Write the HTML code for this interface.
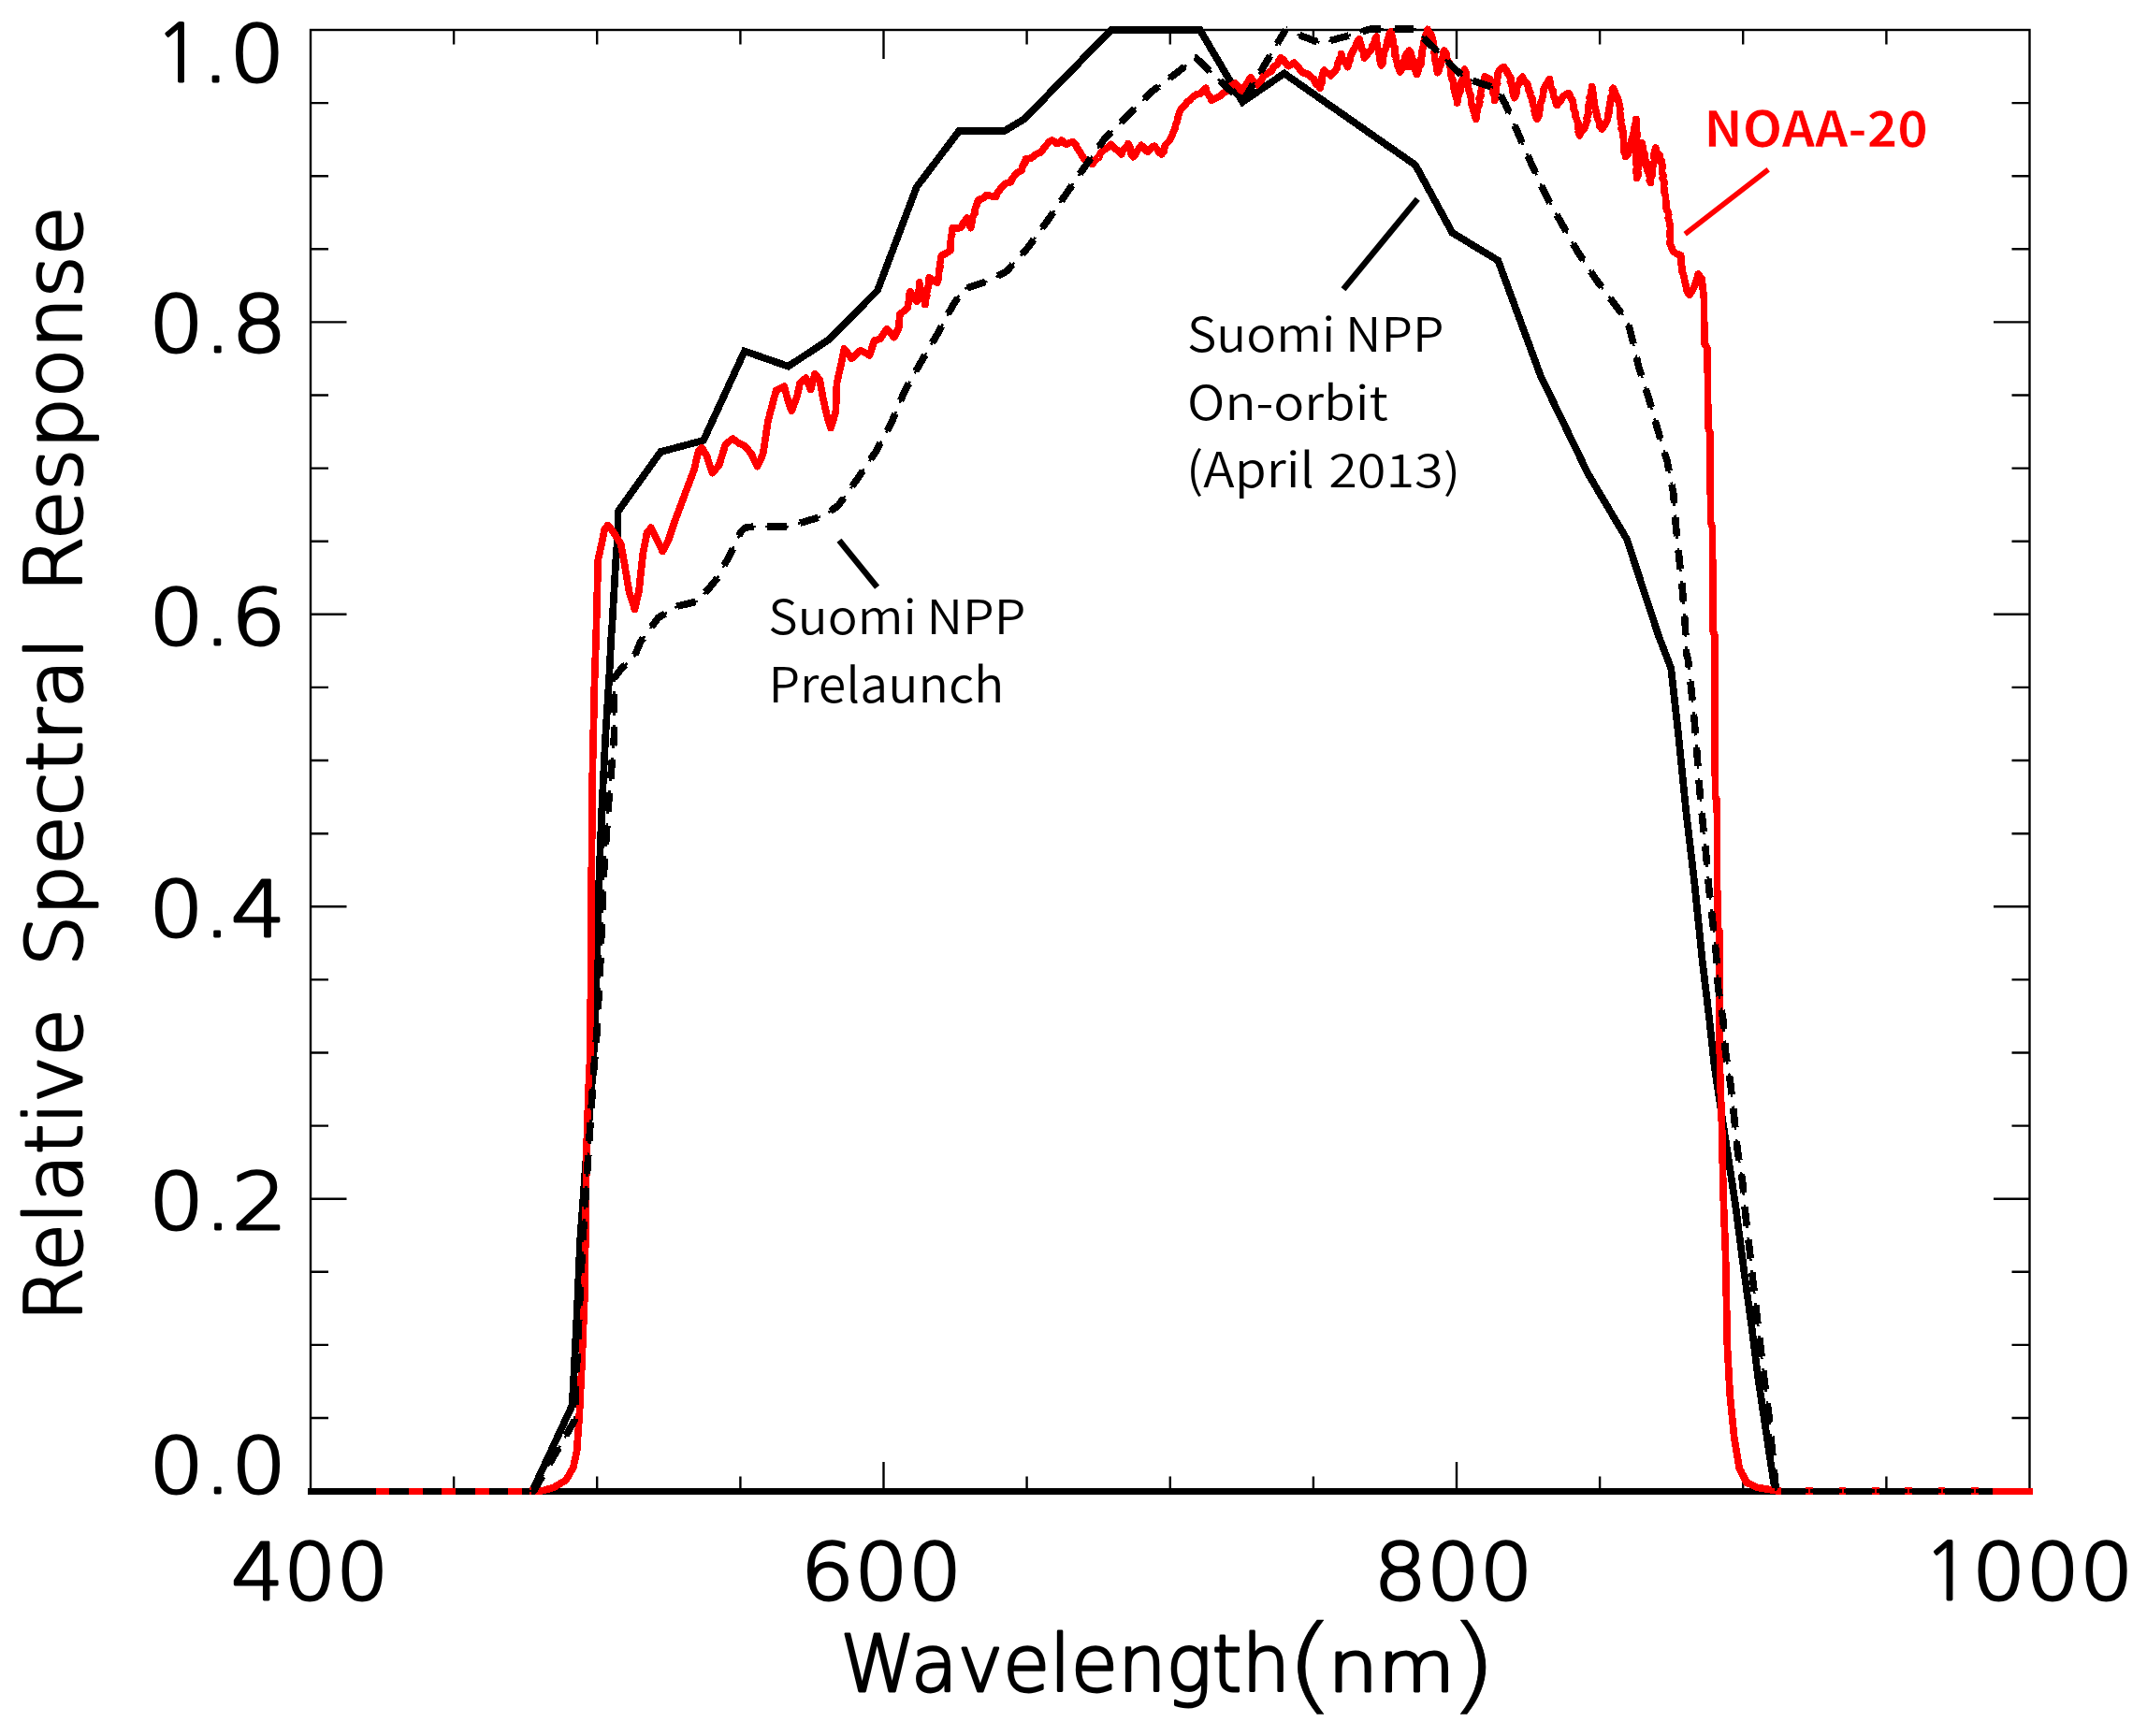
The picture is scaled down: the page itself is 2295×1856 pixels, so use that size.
<!DOCTYPE html>
<html lang="en"><head><meta charset="utf-8"><title>Relative Spectral Response</title>
<style>html,body{margin:0;padding:0;background:#fff}svg{display:block}</style></head><body>
<svg width="2295" height="1856" viewBox="0 0 2295 1856">
<rect width="2295" height="1856" fill="#fff"/>
<g stroke="#000" stroke-width="2.4" fill="none">
<rect x="332.0" y="32.0" width="1837.5" height="1562.1"/>
<path d="M485.1 32.0v15.5M485.1 1594.1v-15.5M638.2 32.0v15.5M638.2 1594.1v-15.5M791.4 32.0v15.5M791.4 1594.1v-15.5M944.5 32.0v31.0M944.5 1594.1v-31.0M1097.6 32.0v15.5M1097.6 1594.1v-15.5M1250.8 32.0v15.5M1250.8 1594.1v-15.5M1403.9 32.0v15.5M1403.9 1594.1v-15.5M1557.0 32.0v31.0M1557.0 1594.1v-31.0M1710.1 32.0v15.5M1710.1 1594.1v-15.5M1863.2 32.0v15.5M1863.2 1594.1v-15.5M2016.4 32.0v15.5M2016.4 1594.1v-15.5M332.0 1516.0h19.0M2169.5 1516.0h-19.0M332.0 1437.9h19.0M2169.5 1437.9h-19.0M332.0 1359.8h19.0M2169.5 1359.8h-19.0M332.0 1281.7h38.5M2169.5 1281.7h-38.5M332.0 1203.6h19.0M2169.5 1203.6h-19.0M332.0 1125.5h19.0M2169.5 1125.5h-19.0M332.0 1047.4h19.0M2169.5 1047.4h-19.0M332.0 969.3h38.5M2169.5 969.3h-38.5M332.0 891.2h19.0M2169.5 891.2h-19.0M332.0 813.0h19.0M2169.5 813.0h-19.0M332.0 734.9h19.0M2169.5 734.9h-19.0M332.0 656.8h38.5M2169.5 656.8h-38.5M332.0 578.7h19.0M2169.5 578.7h-19.0M332.0 500.6h19.0M2169.5 500.6h-19.0M332.0 422.5h19.0M2169.5 422.5h-19.0M332.0 344.4h38.5M2169.5 344.4h-38.5M332.0 266.3h19.0M2169.5 266.3h-19.0M332.0 188.2h19.0M2169.5 188.2h-19.0M332.0 110.1h19.0M2169.5 110.1h-19.0"/>
</g>
<g fill="none" stroke-linejoin="round" stroke-linecap="butt" shape-rendering="crispEdges">
<path d="M328.5 1594.1H2170.7" stroke="#000" stroke-width="7.2"/>
<path d="M566.0 1594.1 L569.0 1594.1 L611.4 1503.0 L612.7 1484.5 L616.7 1405.0 L620.2 1325.5 L627.0 1232.0 L634.1 1140.0 L635.4 1104.0 L638.0 1024.5 L640.2 945.0 L643.3 865.5 L647.3 786.0 L651.3 722.4 L653.4 680.0 L654.1 672.5 L656.7 627.0 L658.4 597.4 L660.2 574.7 L660.6 546.8 L706.3 483.0 L751.9 470.9 L795.9 375.4 L842.6 391.7 L885.3 363.5 L938.0 310.5 L979.8 200.0 L1025.2 140.0 L1073.8 140.0 L1095.2 127.0 L1187.6 32.0 L1282.7 32.0 L1328.2 109.1 L1372.7 78.5 L1513.0 176.5 L1552.4 248.8 L1601.3 278.5 L1646.7 401.5 L1697.5 506.5 L1739.0 576.5 L1773.0 680.0 L1786.2 714.4 L1794.2 786.0 L1802.1 865.5 L1811.4 945.0 L1819.4 1024.5 L1827.3 1090.7 L1832.6 1140.0 L1855.1 1288.4 L1864.4 1360.0 L1872.4 1418.2 L1879.0 1471.2 L1886.9 1524.2 L1893.6 1569.3 L1897.5 1594.1 L1900.0 1594.1" stroke="#000" stroke-width="7.7" stroke-linejoin="miter"/>
<path d="M566.0 1594.1 L569.1 1594.1 L572.1 1594.1 L575.2 1594.1 L578.3 1594.1 L581.6 1593.2 L584.9 1592.3 L588.2 1591.4 L591.5 1590.5 L594.2 1588.9 L596.8 1587.3 L599.5 1585.7 L602.1 1584.1 L604.8 1582.5 L606.4 1579.9 L608.0 1577.2 L609.5 1574.6 L611.1 1571.9 L612.7 1569.3 L613.4 1566.2 L614.0 1563.1 L614.7 1560.0 L615.4 1556.9 L616.0 1553.8 L616.7 1550.7 L616.9 1547.6 L617.1 1544.6 L617.3 1541.5 L617.5 1538.5 L617.7 1535.4 L617.9 1532.4 L618.2 1529.3 L618.4 1526.3 L618.6 1523.2 L618.8 1520.2 L619.0 1517.1 L619.2 1514.1 L619.4 1511.0 L619.6 1507.9 L619.7 1504.8 L619.9 1501.6 L620.0 1498.5 L620.2 1495.4 L620.3 1492.3 L620.5 1489.2 L620.6 1486.1 L620.8 1482.9 L620.9 1479.8 L621.1 1476.7 L621.2 1473.6 L621.4 1470.5 L621.5 1467.4 L621.7 1464.2 L621.8 1461.1 L622.0 1458.0 L622.1 1454.9 L622.2 1451.9 L622.4 1448.8 L622.5 1445.8 L622.6 1442.7 L622.7 1439.7 L622.9 1436.6 L623.0 1433.5 L623.1 1430.5 L623.2 1427.4 L623.4 1424.4 L623.5 1421.3 L623.6 1418.2 L623.7 1415.2 L623.8 1412.1 L624.0 1409.1 L624.1 1406.0 L624.2 1403.0 L624.3 1399.9 L624.5 1396.8 L624.6 1393.8 L624.7 1390.7 L624.8 1387.7 L625.0 1384.6 L625.1 1381.6 L625.2 1378.5 L625.2 1375.4 L625.3 1372.4 L625.3 1369.3 L625.3 1366.3 L625.4 1363.2 L625.4 1360.2 L625.4 1357.1 L625.4 1354.0 L625.5 1351.0 L625.5 1347.9 L625.5 1344.9 L625.6 1341.8 L625.6 1338.8 L625.6 1335.7 L625.7 1332.6 L625.7 1329.6 L625.7 1326.5 L625.8 1323.5 L625.8 1320.4 L625.8 1317.3 L625.8 1314.3 L625.9 1311.2 L625.9 1308.2 L625.9 1305.1 L626.0 1302.1 L626.0 1299.0 L626.0 1295.9 L626.1 1292.9 L626.1 1289.8 L626.2 1286.8 L626.2 1283.7 L626.3 1280.7 L626.4 1277.6 L626.4 1274.5 L626.4 1271.5 L626.5 1268.4 L626.5 1265.4 L626.6 1262.3 L626.6 1259.2 L626.7 1256.2 L626.8 1253.1 L626.8 1250.1 L626.9 1247.0 L626.9 1244.0 L626.9 1240.9 L627.0 1237.8 L627.0 1234.8 L627.1 1231.7 L627.1 1228.7 L627.2 1225.6 L627.2 1222.6 L627.3 1219.5 L627.4 1216.4 L627.5 1213.4 L627.6 1210.3 L627.7 1207.3 L627.8 1204.2 L627.9 1201.2 L628.0 1198.1 L628.1 1195.0 L628.2 1192.0 L628.3 1188.9 L628.4 1185.9 L628.5 1182.8 L628.6 1179.8 L628.8 1176.7 L628.9 1173.6 L629.0 1170.6 L629.1 1167.5 L629.2 1164.5 L629.3 1161.4 L629.4 1158.3 L629.5 1155.3 L629.6 1152.2 L629.7 1149.2 L629.8 1146.1 L629.9 1143.1 L630.0 1140.0 L630.6 1140.0 L630.6 1137.0 L630.7 1133.9 L630.7 1130.9 L630.7 1127.9 L630.8 1124.8 L630.8 1121.8 L630.8 1118.8 L630.9 1115.7 L630.9 1112.7 L630.9 1109.7 L631.0 1106.6 L631.0 1103.6 L631.0 1100.6 L631.0 1097.6 L631.1 1094.5 L631.1 1091.5 L631.1 1088.5 L631.2 1085.4 L631.2 1082.4 L631.2 1079.4 L631.3 1076.3 L631.3 1073.3 L631.3 1070.3 L631.4 1067.2 L631.4 1064.2 L631.4 1061.1 L631.4 1058.1 L631.5 1055.0 L631.5 1052.0 L631.5 1048.9 L631.5 1045.9 L631.5 1042.8 L631.6 1039.7 L631.6 1036.7 L631.6 1033.6 L631.6 1030.6 L631.6 1027.5 L631.7 1024.5 L631.7 1021.4 L631.7 1018.4 L631.7 1015.3 L631.7 1012.2 L631.8 1009.2 L631.8 1006.1 L631.8 1003.1 L631.8 1000.0 L631.9 997.0 L631.9 993.9 L631.9 990.8 L631.9 987.8 L631.9 984.7 L632.0 981.7 L632.0 978.6 L632.0 975.6 L632.0 972.5 L632.0 969.5 L632.1 966.4 L632.1 963.3 L632.1 960.3 L632.1 957.2 L632.1 954.2 L632.2 951.1 L632.2 948.1 L632.2 945.0 L632.2 941.9 L632.3 938.9 L632.3 935.8 L632.3 932.7 L632.3 929.7 L632.4 926.6 L632.4 923.5 L632.4 920.5 L632.5 917.4 L632.5 914.3 L632.5 911.2 L632.5 908.2 L632.6 905.1 L632.6 902.0 L632.6 899.0 L632.7 895.9 L632.7 892.8 L632.7 889.8 L632.8 886.7 L632.8 883.6 L632.8 880.6 L632.8 877.5 L632.9 874.4 L632.9 871.4 L632.9 868.3 L633.0 865.2 L633.0 862.2 L633.0 859.1 L633.0 856.0 L633.1 852.9 L633.1 849.9 L633.1 846.8 L633.2 843.7 L633.2 840.7 L633.2 837.6 L633.2 834.5 L633.3 831.5 L633.3 828.4 L633.4 825.3 L633.4 822.2 L633.5 819.2 L633.6 816.1 L633.6 813.0 L633.7 809.9 L633.8 806.9 L633.8 803.8 L633.9 800.7 L634.0 797.6 L634.0 794.5 L634.1 791.5 L634.2 788.4 L634.2 785.3 L634.3 782.2 L634.4 779.2 L634.5 776.1 L634.5 773.0 L634.6 769.9 L634.7 766.9 L634.7 763.8 L634.8 760.7 L634.9 757.6 L634.9 754.5 L635.0 751.5 L635.1 748.4 L635.1 745.3 L635.2 742.2 L635.3 739.2 L635.3 736.1 L635.4 733.0 L635.5 730.0 L635.6 726.9 L635.7 723.9 L635.8 720.8 L635.9 717.8 L636.0 714.7 L636.1 711.7 L636.2 708.6 L636.3 705.6 L636.4 702.5 L636.5 699.5 L636.6 696.4 L636.7 693.4 L636.8 690.3 L636.9 687.3 L637.0 684.2 L637.1 681.2 L637.2 678.1 L637.3 675.1 L637.4 672.0 L637.5 669.0 L637.5 665.9 L637.6 662.9 L637.7 659.9 L637.8 656.8 L637.8 653.8 L637.9 650.8 L638.0 647.7 L638.1 644.7 L638.1 641.6 L638.2 638.6 L638.3 635.6 L638.4 632.5 L638.5 629.5 L638.5 626.5 L638.6 623.4 L638.7 620.4 L638.8 617.3 L638.8 614.3 L638.9 611.3 L639.0 608.2 L639.1 605.2 L639.1 602.2 L639.2 599.1 L639.9 596.0 L640.6 592.8 L641.3 589.7 L642.0 586.5 L642.7 583.4 L643.4 579.9 L644.1 576.4 L644.8 572.9 L645.5 569.4 L646.2 565.9 L649.7 561.6 L652.3 564.6 L654.9 567.7 L656.7 570.5 L658.4 573.3 L660.2 576.1 L661.9 578.9 L663.7 581.6 L664.2 584.9 L664.8 588.1 L665.4 591.3 L666.0 594.5 L666.6 597.7 L667.2 600.9 L667.7 604.0 L668.2 607.2 L668.7 610.3 L669.3 613.4 L669.8 616.6 L670.3 619.7 L670.8 622.9 L671.4 626.0 L671.9 629.2 L672.4 632.3 L673.4 635.5 L674.4 638.7 L675.5 641.9 L676.5 645.1 L677.5 648.3 L678.5 651.5 L679.2 648.3 L680.0 645.1 L680.7 641.9 L681.4 638.7 L682.2 635.5 L682.9 632.3 L683.2 629.2 L683.6 626.1 L683.9 623.0 L684.2 619.9 L684.6 616.9 L684.9 613.8 L685.2 610.7 L685.6 607.6 L685.9 604.5 L686.2 601.4 L686.6 598.3 L686.9 595.2 L687.2 592.1 L687.9 588.9 L688.5 585.6 L689.1 582.4 L689.7 579.2 L690.4 575.9 L691.0 572.7 L691.6 569.4 L693.8 566.8 L696.0 564.2 L697.5 567.2 L699.0 570.3 L700.6 573.4 L702.1 576.4 L703.6 579.7 L705.1 583.0 L706.7 586.2 L708.2 589.5 L709.7 586.7 L711.3 583.8 L712.8 581.0 L714.3 578.2 L715.3 575.2 L716.3 572.2 L717.3 569.2 L718.3 566.2 L719.3 563.2 L720.3 560.2 L721.3 557.2 L722.5 554.1 L723.6 551.0 L724.8 547.9 L726.0 544.8 L727.1 541.7 L728.3 538.6 L729.5 535.5 L730.6 532.4 L731.8 529.3 L732.9 526.1 L734.1 523.0 L735.3 519.9 L736.4 516.8 L737.6 513.7 L738.8 510.6 L739.9 507.5 L741.1 504.4 L742.3 501.3 L743.0 498.1 L743.7 494.9 L744.4 491.7 L745.2 488.5 L745.9 485.3 L746.6 482.1 L750.1 478.6 L751.9 481.5 L753.6 484.4 L755.4 487.3 L756.4 490.4 L757.4 493.4 L758.4 496.5 L759.4 499.6 L760.5 502.6 L761.5 505.7 L763.8 503.1 L766.1 500.4 L768.5 497.8 L769.5 494.6 L770.5 491.3 L771.5 488.1 L772.5 484.8 L773.5 481.6 L774.5 478.3 L775.5 475.1 L778.1 473.1 L780.7 471.0 L783.3 469.0 L786.8 471.6 L790.3 474.2 L793.4 475.5 L796.4 476.9 L798.7 479.8 L801.1 482.7 L803.4 485.6 L804.9 488.9 L806.5 492.1 L808.0 495.4 L809.5 498.7 L811.0 495.4 L812.6 492.1 L814.1 488.9 L815.6 485.6 L816.1 482.4 L816.6 479.2 L817.1 476.1 L817.5 472.9 L818.0 469.7 L818.5 466.5 L819.0 463.4 L819.4 460.2 L819.9 457.0 L820.4 453.8 L820.9 450.7 L821.7 447.6 L822.5 444.6 L823.2 441.6 L824.0 438.6 L824.8 435.6 L825.6 432.6 L826.4 429.5 L827.2 426.5 L828.0 423.5 L828.8 420.5 L829.6 417.5 L832.5 416.0 L835.4 414.6 L838.3 413.1 L839.2 416.4 L840.1 419.7 L840.9 423.1 L841.8 426.4 L842.7 429.7 L843.9 432.9 L845.0 436.1 L846.2 439.3 L847.4 436.0 L848.6 432.7 L849.9 429.3 L851.1 426.0 L852.3 422.7 L853.0 419.4 L853.8 416.1 L854.5 412.8 L855.2 409.5 L858.3 406.8 L861.4 404.2 L862.7 407.3 L864.0 410.3 L865.3 413.4 L866.6 416.4 L867.5 413.1 L868.3 409.8 L869.2 406.5 L870.1 403.2 L871.0 399.9 L873.6 402.9 L876.2 406.0 L876.8 409.2 L877.4 412.4 L877.9 415.6 L878.5 418.8 L879.1 422.0 L879.7 425.2 L880.4 428.3 L881.0 431.3 L881.7 434.4 L882.4 437.5 L883.1 440.6 L883.7 443.7 L884.8 447.2 L885.9 450.7 L887.0 454.1 L888.1 457.6 L889.0 454.7 L889.9 451.8 L890.7 448.9 L891.6 446.0 L892.5 443.1 L893.3 440.2 L893.5 437.1 L893.6 434.0 L893.7 431.0 L893.8 427.9 L893.9 424.8 L894.1 421.7 L894.2 418.7 L894.3 415.6 L894.4 412.5 L894.5 409.5 L895.3 406.3 L896.0 403.1 L896.7 399.9 L897.5 396.7 L898.2 393.5 L898.9 390.2 L899.6 386.8 L900.3 383.3 L901.0 379.8 L901.7 376.3 L902.4 372.8 L904.4 375.4 L906.3 378.0 L908.3 380.6 L910.3 383.3 L912.7 381.1 L915.1 378.9 L917.5 376.7 L919.9 374.5 L923.1 376.3 L926.3 378.0 L929.5 379.8 L930.5 376.6 L931.6 373.5 L932.6 370.3 L933.7 367.2 L934.7 364.0 L937.8 363.2 L940.8 362.3 L942.6 359.7 L944.3 357.1 L946.1 354.4 L947.8 351.8 L950.4 354.7 L953.1 357.6 L955.7 360.6 L957.4 357.1 L959.2 353.6 L960.9 350.1 L961.1 346.6 L961.3 343.1 L961.6 339.6 L961.8 336.1 L964.7 333.8 L967.6 331.4 L970.5 329.1 L970.7 325.0 L971.8 321.4 L972.2 318.4 L971.8 315.2 L973.1 311.6 L974.1 314.2 L975.9 316.2 L978.2 320.1 L980.1 322.1 L979.9 318.3 L981.2 316.2 L981.6 311.9 L982.7 307.9 L983.0 305.0 L982.7 302.0 L982.9 304.3 L983.9 308.5 L984.5 311.0 L986.1 313.6 L986.7 316.0 L986.5 319.2 L988.4 322.5 L988.9 325.6 L989.0 322.6 L989.7 318.9 L990.8 316.4 L990.3 312.9 L991.3 310.3 L992.2 306.0 L993.1 302.5 L992.6 300.5 L993.2 296.8 L995.5 298.5 L998.2 300.6 L1002.0 302.0 L1002.9 298.8 L1003.5 295.0 L1003.6 292.2 L1003.8 288.6 L1004.8 286.1 L1004.6 282.0 L1005.4 279.1 L1005.5 275.9 L1007.2 272.4 L1010.4 271.8 L1013.6 269.1 L1015.9 268.0 L1016.1 265.2 L1015.7 261.8 L1016.3 258.1 L1016.4 256.2 L1016.9 252.2 L1017.7 250.3 L1017.5 246.5 L1018.6 243.5 L1022.6 244.2 L1026.4 243.5 L1028.7 241.6 L1029.5 238.1 L1031.4 236.4 L1033.4 233.1 L1035.7 235.9 L1035.7 239.6 L1037.8 243.5 L1038.0 240.3 L1039.4 236.7 L1039.1 233.8 L1040.4 230.8 L1042.2 227.9 L1042.1 224.3 L1043.3 221.0 L1044.8 216.5 L1045.6 213.8 L1049.3 212.6 L1052.1 210.9 L1054.4 208.6 L1057.7 209.0 L1060.6 210.0 L1064.8 210.3 L1066.0 206.5 L1068.2 203.6 L1070.4 200.4 L1072.7 198.1 L1075.7 195.7 L1080.6 194.6 L1081.6 191.5 L1083.2 189.5 L1085.8 185.9 L1089.1 183.5 L1091.9 182.4 L1092.6 179.1 L1093.8 175.6 L1095.8 174.1 L1096.3 170.2 L1101.5 169.3 L1104.1 167.7 L1106.0 165.5 L1109.1 164.3 L1112.0 163.2 L1114.9 159.7 L1115.8 158.2 L1119.0 154.5 L1121.7 151.6 L1124.2 150.1 L1126.9 151.0 L1129.5 153.6 L1132.1 152.7 L1134.7 150.1 L1138.0 152.6 L1139.9 154.5 L1143.0 152.9 L1146.9 151.8 L1150.0 154.5 L1151.1 158.1 L1153.6 161.3 L1154.9 163.4 L1157.5 167.9 L1158.7 170.2 L1162.3 172.5 L1165.1 174.1 L1167.5 175.5 L1169.3 173.2 L1171.9 169.9 L1174.5 168.5 L1175.8 164.6 L1178.8 161.5 L1181.3 159.5 L1185.5 156.7 L1187.6 154.5 L1191.0 158.0 L1192.8 159.7 L1196.7 162.1 L1198.9 165.0 L1200.1 161.6 L1201.9 158.8 L1204.4 157.2 L1205.9 153.6 L1207.8 157.1 L1208.8 161.1 L1209.1 164.4 L1211.1 167.6 L1213.6 165.7 L1215.1 162.7 L1215.8 160.8 L1217.8 158.4 L1219.9 155.4 L1223.0 157.5 L1224.3 160.8 L1226.9 162.4 L1229.6 159.7 L1230.8 157.6 L1233.8 156.2 L1237.2 159.7 L1238.4 162.6 L1241.7 165.0 L1244.1 162.2 L1244.5 158.9 L1245.6 154.9 L1247.8 152.7 L1250.4 150.1 L1251.4 147.7 L1253.1 144.0 L1254.2 141.2 L1256.3 136.5 L1256.5 133.2 L1258.3 130.0 L1258.7 127.1 L1259.6 123.8 L1260.2 121.6 L1261.8 117.8 L1263.9 114.8 L1266.6 112.7 L1268.8 109.1 L1271.0 107.8 L1273.4 105.1 L1275.8 103.0 L1279.3 100.8 L1282.7 100.3 L1285.7 96.7 L1288.9 94.2 L1289.5 98.0 L1291.3 100.7 L1293.8 104.2 L1295.0 107.3 L1298.2 105.6 L1302.0 103.8 L1304.7 102.2 L1307.2 99.5 L1312.4 96.9 L1314.3 94.3 L1317.2 91.2 L1320.3 89.0 L1323.1 91.6 L1325.1 94.7 L1327.3 96.9 L1329.9 94.0 L1331.3 91.3 L1333.1 88.8 L1334.9 85.7 L1336.9 82.9 L1339.2 86.3 L1341.9 88.8 L1343.9 90.7 L1347.0 87.1 L1348.6 85.1 L1350.9 81.1 L1354.4 78.7 L1356.0 77.5 L1359.6 75.9 L1360.7 72.6 L1362.7 70.6 L1365.9 68.2 L1366.7 65.1 L1369.2 61.9 L1372.1 64.2 L1375.1 68.6 L1377.1 70.7 L1379.6 69.7 L1383.2 67.2 L1385.4 69.8 L1388.9 73.0 L1389.8 74.9 L1392.8 77.6 L1396.3 78.7 L1399.8 80.3 L1401.1 82.3 L1404.0 84.1 L1405.5 87.1 L1406.5 89.3 L1409.5 91.9 L1411.1 94.2 L1411.1 91.9 L1413.1 88.7 L1412.6 84.2 L1413.2 81.9 L1414.3 77.6 L1415.5 75.0 L1417.7 77.8 L1420.7 78.7 L1422.5 81.1 L1424.2 79.0 L1427.3 75.7 L1429.5 72.4 L1429.6 68.6 L1431.5 66.3 L1431.3 64.3 L1433.2 61.1 L1433.8 57.6 L1434.5 61.0 L1435.8 63.8 L1437.9 65.6 L1439.5 69.5 L1440.8 71.5 L1441.4 67.8 L1442.9 64.9 L1443.2 61.7 L1444.1 58.8 L1445.6 55.9 L1446.9 53.2 L1448.9 50.0 L1450.0 46.9 L1451.2 43.8 L1453.0 41.8 L1453.5 44.3 L1455.2 48.6 L1455.1 51.8 L1457.3 54.5 L1458.0 58.4 L1458.3 61.9 L1460.3 60.2 L1462.2 57.3 L1464.4 54.9 L1466.1 52.7 L1466.9 49.2 L1469.0 45.7 L1469.8 42.1 L1471.4 39.2 L1471.1 41.6 L1471.7 45.8 L1472.5 47.8 L1472.7 52.1 L1474.7 54.8 L1474.1 57.1 L1474.7 60.5 L1475.0 63.6 L1475.7 67.6 L1476.6 69.8 L1478.3 66.5 L1477.9 63.9 L1478.9 59.5 L1479.2 56.2 L1480.9 53.0 L1481.9 49.7 L1482.4 46.6 L1483.1 43.0 L1484.3 40.1 L1485.2 36.3 L1487.1 34.0 L1487.3 36.5 L1488.3 40.0 L1489.1 43.2 L1489.6 46.5 L1489.5 48.5 L1491.1 51.2 L1491.2 55.0 L1490.5 58.3 L1492.5 60.9 L1492.3 63.7 L1493.9 67.5 L1493.9 70.3 L1495.6 74.1 L1496.7 76.8 L1498.3 74.3 L1499.0 71.4 L1500.3 67.9 L1501.1 64.5 L1502.3 60.2 L1503.9 57.3 L1506.3 54.1 L1506.6 57.8 L1508.4 60.6 L1509.5 63.9 L1510.2 65.8 L1511.8 70.3 L1512.2 73.1 L1513.5 75.4 L1514.2 79.4 L1515.9 75.9 L1516.0 72.9 L1518.5 69.7 L1519.4 67.2 L1516.6 68.9 L1512.9 68.7 L1509.7 70.1 L1507.0 70.9 L1503.5 70.8 L1500.0 72.4 L1500.5 69.0 L1502.8 66.2 L1503.6 62.8 L1503.9 60.3 L1506.1 58.2 L1507.0 54.9 L1508.3 57.6 L1509.0 61.0 L1509.9 63.4 L1511.6 66.6 L1512.8 71.0 L1512.0 73.2 L1514.4 77.2 L1514.8 79.4 L1515.4 75.9 L1515.7 74.0 L1516.4 70.2 L1516.9 67.0 L1519.1 63.2 L1519.5 60.8 L1520.3 58.0 L1519.8 55.3 L1521.0 51.4 L1521.8 47.2 L1521.8 44.7 L1523.5 41.0 L1523.8 37.8 L1525.0 35.3 L1526.2 31.4 L1526.6 34.6 L1529.4 36.3 L1530.9 40.3 L1531.4 42.7 L1532.6 45.5 L1532.2 48.9 L1533.8 52.4 L1533.1 55.3 L1533.4 57.8 L1533.6 62.4 L1534.4 65.7 L1534.8 67.7 L1535.7 70.7 L1536.0 75.3 L1536.7 77.6 L1538.2 75.3 L1538.7 72.5 L1540.1 68.9 L1540.6 65.0 L1541.5 62.8 L1542.4 60.2 L1542.4 56.2 L1543.7 54.1 L1545.7 56.7 L1546.1 60.4 L1547.0 64.4 L1549.4 66.9 L1549.8 70.7 L1550.7 73.3 L1551.1 76.5 L1551.0 79.1 L1551.7 83.5 L1552.8 85.3 L1554.1 89.7 L1553.9 91.2 L1554.1 94.1 L1554.9 97.1 L1555.4 100.4 L1556.6 104.6 L1557.5 106.8 L1557.6 110.0 L1558.1 107.0 L1558.7 103.7 L1558.8 100.6 L1561.1 97.3 L1560.9 95.3 L1562.2 91.5 L1561.8 88.6 L1562.7 86.0 L1564.4 83.7 L1564.9 79.3 L1564.0 77.5 L1565.5 74.1 L1566.8 77.1 L1566.9 79.2 L1567.2 83.9 L1568.6 86.8 L1569.5 88.7 L1568.5 91.5 L1569.9 95.1 L1570.6 98.4 L1572.1 101.4 L1572.3 104.4 L1572.6 106.9 L1572.6 110.3 L1573.7 113.5 L1575.1 115.3 L1574.9 118.2 L1576.5 121.9 L1576.3 123.7 L1577.7 127.4 L1578.3 124.5 L1578.6 120.7 L1579.6 117.2 L1579.6 115.0 L1581.3 112.2 L1581.8 108.8 L1581.1 105.3 L1583.0 103.0 L1582.4 98.7 L1583.3 96.8 L1583.8 93.4 L1584.9 89.1 L1586.5 86.6 L1587.3 82.0 L1592.6 84.6 L1592.8 87.0 L1593.8 91.0 L1595.1 93.8 L1596.1 98.0 L1596.3 100.3 L1597.9 103.7 L1597.8 107.3 L1598.8 103.7 L1598.2 101.5 L1598.8 98.7 L1599.6 94.2 L1599.5 91.5 L1600.7 89.3 L1600.2 85.1 L1600.8 83.0 L1601.1 78.2 L1602.2 75.9 L1604.0 73.5 L1607.4 71.5 L1610.2 75.4 L1611.9 78.8 L1613.5 81.1 L1615.0 83.8 L1614.3 87.8 L1615.9 89.1 L1616.4 92.7 L1616.6 95.6 L1616.9 97.9 L1617.7 101.5 L1618.8 104.7 L1620.5 100.8 L1621.4 97.6 L1621.1 95.5 L1622.3 91.6 L1624.6 88.3 L1624.9 85.2 L1627.5 82.0 L1628.8 85.6 L1630.0 87.4 L1632.8 89.7 L1633.6 93.4 L1634.3 97.0 L1635.8 98.7 L1635.4 101.9 L1637.9 105.3 L1638.4 109.6 L1638.6 111.5 L1640.6 115.2 L1640.2 118.5 L1641.1 120.8 L1641.5 124.8 L1643.2 127.4 L1644.6 124.7 L1645.3 120.7 L1644.7 118.6 L1646.6 116.5 L1646.2 112.3 L1646.9 109.8 L1648.4 106.3 L1648.8 104.3 L1649.5 101.5 L1649.8 97.7 L1650.2 95.1 L1651.4 92.2 L1653.8 89.1 L1654.3 87.7 L1656.3 84.6 L1656.7 86.9 L1657.2 90.9 L1658.6 94.8 L1660.5 97.9 L1660.3 99.4 L1660.8 103.3 L1662.8 106.3 L1662.8 109.3 L1664.2 112.6 L1666.4 110.0 L1668.7 107.4 L1670.3 103.8 L1673.6 101.0 L1676.4 99.5 L1678.3 101.9 L1679.2 104.9 L1680.8 107.4 L1681.6 110.8 L1681.8 113.5 L1682.3 117.7 L1683.7 119.8 L1684.0 124.1 L1684.8 125.8 L1686.0 129.7 L1687.0 131.8 L1686.7 136.2 L1688.0 139.4 L1687.2 141.4 L1688.6 144.9 L1689.7 141.1 L1693.0 138.5 L1694.7 134.8 L1695.6 131.8 L1696.8 128.7 L1696.1 126.2 L1697.8 122.0 L1697.7 119.9 L1697.5 116.4 L1697.8 113.1 L1698.5 110.8 L1699.7 107.1 L1699.0 104.3 L1700.6 101.0 L1700.5 98.0 L1701.8 95.6 L1701.7 92.5 L1701.5 95.0 L1702.6 99.0 L1703.6 101.4 L1703.2 105.8 L1704.2 108.3 L1704.5 112.7 L1705.1 115.2 L1705.7 118.2 L1707.1 122.5 L1707.0 124.8 L1708.0 127.5 L1710.0 130.8 L1710.0 135.3 L1712.2 137.9 L1714.1 135.3 L1716.1 132.2 L1718.3 128.3 L1718.8 124.6 L1718.6 122.2 L1720.2 119.7 L1719.8 116.1 L1720.9 112.8 L1721.0 109.3 L1722.3 107.4 L1722.1 103.5 L1723.9 101.3 L1723.3 96.7 L1724.4 94.2 L1726.5 98.4 L1726.9 100.1 L1728.9 104.0 L1730.1 107.7 L1730.6 110.8 L1731.5 113.2 L1731.8 116.3 L1731.5 120.4 L1732.6 122.2 L1731.9 125.6 L1732.8 128.5 L1732.5 131.3 L1733.9 135.4 L1733.0 137.8 L1734.7 139.9 L1735.2 143.0 L1735.1 146.8 L1735.6 149.3 L1735.6 152.8 L1735.9 155.9 L1736.3 158.5 L1735.9 161.8 L1737.2 164.1 L1737.5 167.6 L1739.8 165.5 L1741.0 161.8 L1742.8 159.7 L1743.3 155.8 L1743.3 153.1 L1743.9 149.9 L1745.2 146.0 L1746.1 142.8 L1746.9 140.8 L1747.1 136.3 L1747.7 133.7 L1749.1 130.0 L1748.9 127.4 L1749.6 131.5 L1749.4 134.3 L1748.5 137.7 L1749.1 140.8 L1749.9 142.5 L1749.7 147.1 L1748.4 149.2 L1749.7 152.0 L1750.0 155.3 L1749.9 158.2 L1749.4 162.8 L1748.9 164.7 L1749.5 168.0 L1748.7 170.9 L1748.9 175.4 L1749.9 178.4 L1749.0 181.4 L1749.0 184.1 L1750.0 186.9 L1749.8 190.3 L1750.9 187.3 L1750.8 184.7 L1750.4 181.8 L1751.7 177.6 L1752.5 174.2 L1753.3 171.7 L1752.6 168.9 L1753.2 164.7 L1754.1 161.3 L1754.7 158.6 L1754.8 156.7 L1755.0 152.7 L1755.8 156.1 L1756.0 158.0 L1756.2 161.3 L1758.0 164.8 L1758.5 168.7 L1758.5 170.6 L1760.1 173.3 L1759.6 176.9 L1760.5 180.0 L1761.4 183.5 L1762.7 185.8 L1763.5 189.4 L1763.3 193.3 L1764.6 195.5 L1764.6 191.8 L1764.8 189.5 L1766.6 186.7 L1766.2 182.6 L1765.9 180.2 L1767.3 176.5 L1767.9 173.5 L1768.9 170.9 L1768.1 168.1 L1768.2 164.3 L1769.2 160.6 L1769.9 158.0 L1770.3 161.3 L1771.4 163.7 L1774.3 165.7 L1774.2 169.4 L1776.0 172.0 L1776.3 175.3 L1777.2 177.5 L1776.6 180.8 L1776.5 184.9 L1778.1 187.6 L1777.0 190.9 L1778.7 193.3 L1779.0 196.3 L1778.4 198.8 L1778.8 201.7 L1779.3 206.0 L1780.2 209.3 L1780.6 211.3 L1780.6 214.6 L1781.4 217.8 L1781.2 220.9 L1781.4 224.3 L1783.2 226.7 L1783.7 229.6 L1783.2 233.1 L1784.6 237.6 L1784.8 240.0 L1785.3 242.7 L1785.6 245.7 L1784.5 249.8 L1785.3 252.5 L1785.5 256.0 L1785.2 258.8 L1785.3 261.2 L1787.4 265.8 L1788.8 269.1 L1792.6 271.5 L1796.7 273.1 L1797.3 276.1 L1797.1 280.0 L1797.3 283.8 L1797.9 285.5 L1798.2 290.5 L1799.4 293.0 L1800.1 296.1 L1800.7 299.2 L1801.3 302.2 L1802.0 305.3 L1802.7 308.4 L1803.3 311.5 L1806.0 315.5 L1807.8 312.4 L1809.5 309.3 L1811.3 306.2 L1812.3 302.9 L1813.3 299.6 L1814.3 296.3 L1815.3 293.0 L1817.2 295.6 L1819.2 298.3 L1819.5 301.3 L1819.8 304.4 L1820.1 307.4 L1820.5 310.4 L1820.8 313.4 L1821.1 316.5 L1821.4 319.5 L1821.4 322.7 L1821.5 325.9 L1821.5 329.0 L1821.5 332.2 L1821.6 335.4 L1821.6 338.6 L1821.6 341.8 L1821.7 344.9 L1821.7 348.1 L1821.7 351.3 L1821.8 354.5 L1821.8 357.7 L1821.8 360.8 L1821.9 364.0 L1821.9 367.2 L1823.5 369.9 L1825.1 372.5 L1825.1 375.5 L1825.2 378.6 L1825.2 381.6 L1825.2 384.6 L1825.2 387.6 L1825.3 390.7 L1825.3 393.7 L1825.3 396.7 L1825.4 399.8 L1825.4 402.8 L1825.4 405.8 L1825.4 408.8 L1825.5 411.9 L1825.5 414.9 L1825.5 417.9 L1825.6 421.0 L1825.6 424.0 L1825.6 427.0 L1825.6 430.0 L1825.7 433.1 L1825.7 436.1 L1825.7 439.1 L1825.8 442.2 L1825.8 445.2 L1825.8 448.2 L1825.8 451.2 L1825.9 454.3 L1825.9 457.3 L1828.0 462.6 L1828.0 465.7 L1828.0 468.8 L1828.0 471.8 L1828.1 474.9 L1828.1 478.0 L1828.1 481.1 L1828.1 484.1 L1828.1 487.2 L1828.1 490.3 L1828.2 493.4 L1828.2 496.5 L1828.2 499.5 L1828.2 502.6 L1828.2 505.7 L1828.2 508.8 L1828.3 511.8 L1828.3 514.9 L1828.3 518.0 L1828.3 521.1 L1828.3 524.1 L1828.3 527.2 L1828.4 530.3 L1828.4 533.4 L1828.4 536.5 L1828.4 539.5 L1828.4 542.6 L1828.4 545.7 L1828.5 548.8 L1828.5 551.8 L1828.5 554.9 L1828.5 558.0 L1830.4 563.3 L1830.4 566.3 L1830.4 569.3 L1830.5 572.3 L1830.5 575.3 L1830.5 578.3 L1830.5 581.3 L1830.6 584.4 L1830.6 587.4 L1830.6 590.4 L1830.6 593.4 L1830.6 596.4 L1830.7 599.4 L1830.7 602.4 L1830.7 605.4 L1830.7 608.4 L1830.7 611.4 L1830.8 614.4 L1830.8 617.4 L1830.8 620.5 L1830.8 623.5 L1830.9 626.5 L1830.9 629.5 L1830.9 632.5 L1830.9 635.5 L1830.9 638.5 L1831.0 641.5 L1831.0 644.5 L1831.0 647.5 L1831.0 650.5 L1831.0 653.5 L1831.1 656.6 L1831.1 659.6 L1831.1 662.6 L1831.1 665.6 L1831.2 668.6 L1831.2 671.6 L1831.2 674.6 L1833.0 679.9 L1833.0 682.9 L1833.0 685.9 L1833.0 689.0 L1833.0 692.0 L1833.0 695.0 L1833.0 698.0 L1833.0 701.1 L1833.1 704.1 L1833.1 707.1 L1833.1 710.1 L1833.1 713.2 L1833.1 716.2 L1833.1 719.2 L1833.1 722.2 L1833.1 725.2 L1833.1 728.3 L1833.1 731.3 L1833.1 734.3 L1833.1 737.3 L1833.1 740.4 L1833.1 743.4 L1833.2 746.4 L1833.2 749.4 L1833.2 752.4 L1833.2 755.5 L1833.2 758.5 L1833.2 761.5 L1833.2 764.5 L1833.2 767.6 L1833.2 770.6 L1833.2 773.6 L1833.2 776.6 L1833.2 779.7 L1833.2 782.7 L1833.2 785.7 L1833.3 788.7 L1833.3 791.7 L1833.3 794.8 L1833.3 797.8 L1833.3 800.8 L1833.3 803.8 L1833.3 806.9 L1833.3 809.9 L1833.3 812.9 L1833.3 815.9 L1833.3 818.9 L1833.3 822.0 L1833.3 825.0 L1833.3 828.0 L1833.4 831.0 L1833.4 834.1 L1833.4 837.1 L1833.4 840.1 L1833.4 843.1 L1833.4 846.2 L1833.4 849.2 L1833.4 852.2 L1835.3 854.9 L1835.3 858.0 L1835.3 861.0 L1835.3 864.1 L1835.3 867.1 L1835.4 870.2 L1835.4 873.3 L1835.4 876.3 L1835.4 879.4 L1835.4 882.5 L1835.4 885.5 L1835.4 888.6 L1835.4 891.6 L1835.4 894.7 L1835.5 897.8 L1835.5 900.8 L1835.5 903.9 L1835.5 907.0 L1835.5 910.0 L1835.5 913.1 L1835.5 916.1 L1835.5 919.2 L1835.5 922.3 L1835.6 925.3 L1835.6 928.4 L1835.6 931.5 L1835.6 934.5 L1835.6 937.6 L1835.6 940.6 L1835.6 943.7 L1835.6 946.8 L1835.6 949.8 L1835.7 952.9 L1835.7 956.0 L1835.7 959.0 L1835.7 962.1 L1835.7 965.1 L1835.7 968.2 L1835.7 971.3 L1835.7 974.3 L1835.7 977.4 L1835.8 980.5 L1835.8 983.5 L1835.8 986.6 L1835.8 989.6 L1835.8 992.7 L1837.9 995.3 L1837.9 998.3 L1837.9 1001.3 L1837.9 1004.3 L1837.9 1007.4 L1838.0 1010.4 L1838.0 1013.4 L1838.0 1016.4 L1838.0 1019.4 L1838.0 1022.4 L1838.0 1025.4 L1838.0 1028.5 L1838.0 1031.5 L1838.0 1034.5 L1838.0 1037.5 L1838.1 1040.5 L1838.1 1043.5 L1838.1 1046.5 L1838.1 1049.6 L1838.1 1052.6 L1838.1 1055.6 L1838.1 1058.6 L1838.1 1061.6 L1838.1 1064.6 L1838.2 1067.7 L1838.2 1070.7 L1838.2 1073.7 L1838.2 1076.7 L1838.2 1079.7 L1838.2 1082.7 L1838.2 1085.7 L1838.2 1088.8 L1838.2 1091.8 L1838.2 1094.8 L1838.3 1097.8 L1838.3 1100.8 L1838.3 1103.8 L1838.3 1106.8 L1838.3 1109.9 L1838.3 1112.9 L1838.3 1115.9 L1838.3 1118.9 L1838.3 1121.9 L1838.3 1124.9 L1838.4 1127.9 L1838.4 1131.0 L1838.4 1134.0 L1838.4 1137.0 L1838.4 1140.0 L1838.5 1143.0 L1838.6 1146.0 L1838.7 1149.0 L1838.8 1152.0 L1838.9 1155.0 L1839.0 1158.1 L1839.1 1161.1 L1839.2 1164.1 L1839.3 1167.1 L1839.4 1170.1 L1839.5 1173.1 L1839.6 1176.1 L1839.7 1179.1 L1839.8 1182.1 L1839.9 1185.1 L1840.0 1188.1 L1840.1 1191.2 L1840.2 1194.2 L1840.3 1197.2 L1840.4 1200.2 L1840.5 1203.2 L1840.6 1206.2 L1840.7 1209.2 L1840.7 1212.2 L1840.8 1215.2 L1840.8 1218.3 L1840.9 1221.3 L1841.0 1224.3 L1841.0 1227.3 L1841.1 1230.3 L1841.1 1233.3 L1841.2 1236.3 L1841.2 1239.3 L1841.3 1242.4 L1841.4 1245.4 L1841.4 1248.4 L1841.5 1251.4 L1841.5 1254.4 L1841.6 1257.4 L1841.7 1260.4 L1841.7 1263.5 L1841.8 1266.5 L1841.8 1269.5 L1841.9 1272.5 L1842.0 1275.6 L1842.1 1278.8 L1842.3 1281.9 L1842.4 1285.0 L1842.5 1288.2 L1842.6 1291.3 L1842.7 1294.4 L1842.8 1297.6 L1843.0 1300.7 L1843.1 1303.8 L1843.2 1307.0 L1843.3 1310.1 L1843.4 1313.2 L1843.6 1316.3 L1843.7 1319.5 L1843.8 1322.6 L1843.9 1325.7 L1844.0 1328.9 L1844.1 1332.0 L1844.3 1335.1 L1844.4 1338.3 L1844.5 1341.4 L1844.6 1344.5 L1844.6 1347.5 L1844.7 1350.6 L1844.7 1353.7 L1844.8 1356.7 L1844.9 1359.8 L1844.9 1362.8 L1845.0 1365.9 L1845.0 1369.0 L1845.1 1372.0 L1845.2 1375.1 L1845.2 1378.2 L1845.3 1381.2 L1845.3 1384.3 L1845.4 1387.3 L1845.5 1390.4 L1845.5 1393.5 L1845.6 1396.5 L1845.6 1399.6 L1845.7 1402.7 L1845.7 1405.7 L1845.8 1408.8 L1845.9 1411.8 L1845.9 1414.9 L1846.0 1418.0 L1846.0 1421.0 L1846.1 1424.1 L1846.2 1427.2 L1846.2 1430.2 L1846.3 1433.3 L1846.3 1436.3 L1846.4 1439.4 L1846.6 1442.5 L1846.7 1445.6 L1846.9 1448.8 L1847.1 1451.9 L1847.3 1455.0 L1847.4 1458.1 L1847.6 1461.2 L1847.8 1464.3 L1847.9 1467.5 L1848.1 1470.6 L1848.3 1473.7 L1848.4 1476.8 L1848.6 1479.9 L1848.8 1483.0 L1849.0 1486.2 L1849.1 1489.3 L1849.3 1492.4 L1849.6 1495.4 L1849.9 1498.4 L1850.2 1501.4 L1850.5 1504.4 L1850.8 1507.4 L1851.1 1510.4 L1851.4 1513.4 L1851.7 1516.5 L1852.0 1519.5 L1852.3 1522.5 L1852.6 1525.5 L1852.9 1528.5 L1853.2 1531.5 L1853.5 1534.5 L1853.8 1537.5 L1854.3 1540.7 L1854.9 1543.9 L1855.4 1547.0 L1855.9 1550.2 L1856.4 1553.4 L1857.0 1556.6 L1857.5 1559.8 L1858.0 1562.9 L1858.6 1566.1 L1859.1 1569.3 L1860.7 1572.5 L1862.3 1575.7 L1863.9 1578.8 L1865.5 1582.0 L1867.1 1585.2 L1870.1 1586.5 L1873.0 1587.8 L1876.0 1589.2 L1879.0 1590.5 L1882.3 1591.0 L1885.6 1591.5 L1888.9 1592.1 L1892.2 1592.6 L1896.2 1593.3 L1900.2 1594.1 L1904.0 1594.1" stroke="#f00" stroke-width="7.7"/>
<path d="M558.2 1594.1 L570.5 1594.1 L614.0 1519.0 L615.5 1484.5 L619.0 1405.0 L623.0 1325.5 L629.0 1232.0 L635.0 1140.0 L638.0 1104.0 L642.0 1024.5 L644.7 945.0 L650.0 865.5 L656.6 786.0 L656.6 725.0 L664.5 714.4 L677.6 703.2 L684.6 686.4 L703.8 660.3 L724.8 648.0 L745.8 642.8 L758.0 628.8 L766.7 618.3 L778.9 595.6 L792.0 568.6 L796.4 564.2 L806.9 562.8 L841.8 563.3 L880.3 551.6 L896.0 540.6 L916.0 512.7 L936.1 483.0 L952.7 452.4 L967.0 418.2 L983.6 388.5 L1001.1 358.8 L1018.5 326.5 L1030.0 309.0 L1058.0 300.0 L1076.2 289.8 L1098.9 264.5 L1119.9 235.7 L1139.9 206.9 L1160.9 176.3 L1180.1 149.2 L1205.0 123.9 L1230.3 98.6 L1259.2 76.8 L1278.4 61.9 L1328.2 109.1 L1374.1 31.9" stroke="#000" stroke-width="7.6" stroke-dasharray="20.3 15.0" stroke-dashoffset="25.1"/>
<path d="M558.2 1594.1 L570.5 1594.1 L614.0 1519.0 L615.5 1484.5 L619.0 1405.0 L623.0 1325.5 L629.0 1232.0 L635.0 1140.0 L638.0 1104.0 L642.0 1024.5 L644.7 945.0 L650.0 865.5 L656.6 786.0 L656.6 725.0 L664.5 714.4 L677.6 703.2 L684.6 686.4 L703.8 660.3 L724.8 648.0 L745.8 642.8 L758.0 628.8 L766.7 618.3 L778.9 595.6 L792.0 568.6 L796.4 564.2 L806.9 562.8 L841.8 563.3 L880.3 551.6 L896.0 540.6 L916.0 512.7 L936.1 483.0 L952.7 452.4 L967.0 418.2 L983.6 388.5 L1001.1 358.8 L1018.5 326.5 L1030.0 309.0 L1058.0 300.0 L1076.2 289.8 L1098.9 264.5 L1119.9 235.7 L1139.9 206.9 L1160.9 176.3 L1180.1 149.2 L1205.0 123.9 L1230.3 98.6 L1259.2 76.8 L1278.4 61.9 L1328.2 109.1 L1374.1 31.9" stroke="#000" stroke-width="2.6" stroke-dasharray="25.3 10.0" stroke-dashoffset="27.6"/>
<path d="M1374.1 31.9 L1412.0 46.2 L1446.9 36.6 L1464.4 31.2 L1513.3 31.2 L1513.1 31.9 L1564.6 82.9 L1600.4 95.1 L1609.2 111.2 L1623.5 144.4 L1637.1 175.5 L1652.3 208.6 L1668.9 238.3 L1686.0 268.4 L1706.5 299.5 L1726.5 326.1 L1739.7 343.3 L1743.7 357.9 L1751.7 392.4 L1762.3 425.5 L1772.1 459.9 L1782.1 493.0 L1788.8 527.5 L1791.4 562.0 L1794.9 596.4 L1798.6 632.2 L1801.2 666.6 L1802.8 700.0 L1804.3 703.8 L1808.0 738.3 L1811.4 772.7 L1814.1 807.2 L1816.7 843.0 L1820.2 880.0 L1823.9 915.8 L1826.8 950.3 L1830.8 986.0 L1834.5 1020.5 L1836.6 1056.3 L1841.9 1090.7 L1844.5 1125.2 L1849.8 1158.5 L1853.8 1195.6 L1857.3 1230.1 L1862.6 1263.2 L1865.9 1299.0 L1869.9 1333.4 L1873.9 1370.5 L1877.8 1405.0 L1881.8 1439.4 L1885.8 1473.9 L1890.6 1511.0 L1898.5 1594.1" stroke="#000" stroke-width="7.6" stroke-dasharray="20.3 15.0" stroke-dashoffset="19.5"/>
<path d="M1374.1 31.9 L1412.0 46.2 L1446.9 36.6 L1464.4 31.2 L1513.3 31.2 L1513.1 31.9 L1564.6 82.9 L1600.4 95.1 L1609.2 111.2 L1623.5 144.4 L1637.1 175.5 L1652.3 208.6 L1668.9 238.3 L1686.0 268.4 L1706.5 299.5 L1726.5 326.1 L1739.7 343.3 L1743.7 357.9 L1751.7 392.4 L1762.3 425.5 L1772.1 459.9 L1782.1 493.0 L1788.8 527.5 L1791.4 562.0 L1794.9 596.4 L1798.6 632.2 L1801.2 666.6 L1802.8 700.0 L1804.3 703.8 L1808.0 738.3 L1811.4 772.7 L1814.1 807.2 L1816.7 843.0 L1820.2 880.0 L1823.9 915.8 L1826.8 950.3 L1830.8 986.0 L1834.5 1020.5 L1836.6 1056.3 L1841.9 1090.7 L1844.5 1125.2 L1849.8 1158.5 L1853.8 1195.6 L1857.3 1230.1 L1862.6 1263.2 L1865.9 1299.0 L1869.9 1333.4 L1873.9 1370.5 L1877.8 1405.0 L1881.8 1439.4 L1885.8 1473.9 L1890.6 1511.0 L1898.5 1594.1" stroke="#000" stroke-width="2.6" stroke-dasharray="25.3 10.0" stroke-dashoffset="22.0"/>
<path d="M401.5 1594.1H416.4M437.1 1594.1H452.0M472.3 1594.1H487.3M507.5 1594.1H522.6M543.1 1594.1H558.2" stroke="#f00" stroke-width="7.2"/>
<path d="M1934.1 1590.4v7.4M1930.3 1590.9h7.6M1930.3 1597.3h7.6M1969.5 1590.4v7.4M1965.7 1590.9h7.6M1965.7 1597.3h7.6M2004.8 1590.4v7.4M2001.0 1590.9h7.6M2001.0 1597.3h7.6M2040.2 1590.4v7.4M2036.4 1590.9h7.6M2036.4 1597.3h7.6M2075.6 1590.4v7.4M2071.8 1590.9h7.6M2071.8 1597.3h7.6M2110.9 1590.4v7.4M2107.1 1590.9h7.6M2107.1 1597.3h7.6" stroke="#f00" stroke-width="2"/>
<path d="M2130.1 1594.1H2172.8" stroke="#f00" stroke-width="7.2"/>
</g>
<g fill="none" stroke-linecap="butt">
<path d="M1436 309.3L1515.3 212.7" stroke="#000" stroke-width="6.5"/>
<path d="M897 577.8L937.6 627.8" stroke="#000" stroke-width="6.5"/>
<path d="M1801.2 250.2L1890.2 181.3" stroke="#f00" stroke-width="5.6"/>
</g>
<text transform="translate(159.10 376.35) scale(0.4637 0.4141)" font-size="200" font-family='"DejaVu Sans","Liberation Sans",sans-serif' font-weight="200" stroke="#000" stroke-width="7.00" stroke-linejoin="round">0.8</text>
<text transform="translate(159.16 689.15) scale(0.4604 0.4141)" font-size="200" font-family='"DejaVu Sans","Liberation Sans",sans-serif' font-weight="200" stroke="#000" stroke-width="7.00" stroke-linejoin="round">0.6</text>
<text transform="translate(159.19 1001.05) scale(0.4588 0.4141)" font-size="200" font-family='"DejaVu Sans","Liberation Sans",sans-serif' font-weight="200" stroke="#000" stroke-width="7.00" stroke-linejoin="round">0.4</text>
<text transform="translate(159.07 1313.85) scale(0.4654 0.4168)" font-size="200" font-family='"DejaVu Sans","Liberation Sans",sans-serif' font-weight="200" stroke="#000" stroke-width="6.96" stroke-linejoin="round">0.2</text>
<text transform="translate(159.13 1595.55) scale(0.4621 0.4134)" font-size="200" font-family='"DejaVu Sans","Liberation Sans",sans-serif' font-weight="200" stroke="#000" stroke-width="7.01" stroke-linejoin="round">0.0</text>
<text transform="translate(247.04 1710.05) scale(0.4410 0.4201)" font-size="200" font-family='"DejaVu Sans","Liberation Sans",sans-serif' font-weight="200" stroke="#000" stroke-width="6.90" stroke-linejoin="round">400</text>
<text transform="translate(855.87 1710.05) scale(0.4516 0.4201)" font-size="200" font-family='"DejaVu Sans","Liberation Sans",sans-serif' font-weight="200" stroke="#000" stroke-width="6.90" stroke-linejoin="round">600</text>
<text transform="translate(1468.50 1710.05) scale(0.4449 0.4201)" font-size="200" font-family='"DejaVu Sans","Liberation Sans",sans-serif' font-weight="200" stroke="#000" stroke-width="6.90" stroke-linejoin="round">800</text>
<text transform="translate(215.66 87.25) scale(0.4664 0.4208)" font-size="200" font-family='"DejaVu Sans","Liberation Sans",sans-serif' font-weight="200" stroke="#000" stroke-width="6.89" stroke-linejoin="round"><tspan x="-109.48" dy="2.38" font-family='"NanumGothic","DejaVu Sans",sans-serif' font-weight="400" font-size="206.4" stroke-width="2.14" textLength="112.83" lengthAdjust="spacingAndGlyphs">1</tspan><tspan x="0" dy="-2.38">.0</tspan></text>
<text transform="translate(2108.12 1710.05) scale(0.4517 0.4201)" font-size="200" font-family='"DejaVu Sans","Liberation Sans",sans-serif' font-weight="200" stroke="#000" stroke-width="6.90" stroke-linejoin="round"><tspan x="-117.57" dy="2.38" font-family='"NanumGothic","DejaVu Sans",sans-serif' font-weight="400" font-size="206.4" stroke-width="2.14" textLength="116.33" lengthAdjust="spacingAndGlyphs">1</tspan><tspan x="0" dy="-2.38">000</tspan></text>
<text transform="translate(898.24 1807.55) scale(0.4078 0.4199)" font-size="200" font-family='"DejaVu Sans","Liberation Sans",sans-serif' font-weight="200" stroke="#000" stroke-width="6.91" stroke-linejoin="round"><tspan x="0" y="0">Wavelength</tspan><tspan x="1158.75" y="23.34" font-size="266.5" textLength="146.52" lengthAdjust="spacingAndGlyphs" stroke-width="1.43">(</tspan><tspan x="1278.11" y="0.24" font-size="177.4" textLength="333.33" lengthAdjust="spacingAndGlyphs" stroke-width="6.91">nm</tspan><tspan x="1585.95" y="23.34" font-size="266.5" textLength="142.99" lengthAdjust="spacingAndGlyphs" stroke-width="1.43">)</tspan></text>
<g transform="translate(88.9 1404.2) rotate(-90)">
<text transform="translate(-8.92 -1.45) scale(0.4149 0.4199)" font-size="200" font-family='"DejaVu Sans","Liberation Sans",sans-serif' font-weight="200" stroke="#000" stroke-width="6.91" stroke-linejoin="round"><tspan x="0" y="0">Relative </tspan><tspan x="916.21" y="0.00" font-size="196.0" textLength="913.20" lengthAdjust="spacingAndGlyphs" stroke-width="6.91">Spectral </tspan><tspan x="1879.98" y="0.00" font-size="200.0" textLength="994.53" lengthAdjust="spacingAndGlyphs" stroke-width="6.91">Response</tspan></text>
</g>
<text transform="translate(1268.95 375.60) scale(0.2655 0.2523)" font-size="200" font-family='"Noto Sans CJK SC","Noto Sans CJK JP","Liberation Sans",sans-serif' font-weight="350"><tspan x="0" y="0">Suomi </tspan><tspan x="636.93" y="0.00" font-size="200.9" textLength="397.09" lengthAdjust="spacingAndGlyphs">NPP</tspan></text>
<text transform="translate(1269.01 448.50) scale(0.2741 0.2517)" font-size="200" font-family='"Noto Sans CJK SC","Noto Sans CJK JP","Liberation Sans",sans-serif' font-weight="350"><tspan x="0" y="0">On-orbit</tspan></text>
<text transform="translate(1268.02 521.40) scale(0.2767 0.2568)" font-size="200" font-family='"Noto Sans CJK SC","Noto Sans CJK JP","Liberation Sans",sans-serif' font-weight="350"><tspan x="0" y="0">(April </tspan><tspan x="549.95" y="0.00" font-size="192.8" textLength="509.51" lengthAdjust="spacingAndGlyphs">2013)</tspan></text>
<text transform="translate(821.35 678.00) scale(0.2655 0.2530)" font-size="200" font-family='"Noto Sans CJK SC","Noto Sans CJK JP","Liberation Sans",sans-serif' font-weight="350"><tspan x="0" y="0">Suomi </tspan><tspan x="636.84" y="0.00" font-size="200.3" textLength="398.72" lengthAdjust="spacingAndGlyphs">NPP</tspan></text>
<text transform="translate(821.43 751.30) scale(0.2684 0.2582)" font-size="200" font-family='"Noto Sans CJK SC","Noto Sans CJK JP","Liberation Sans",sans-serif' font-weight="350"><tspan x="0" y="0">Prelaunch</tspan></text>
<text transform="translate(1821.53 157.10) scale(0.2760 0.2622)" font-size="200" font-family='"Noto Sans CJK SC","Noto Sans CJK JP","Liberation Sans",sans-serif' font-weight="bold" style="fill:#f00" stroke="#fff" stroke-width="2.29">NOAA-20</text>
</svg></body></html>
